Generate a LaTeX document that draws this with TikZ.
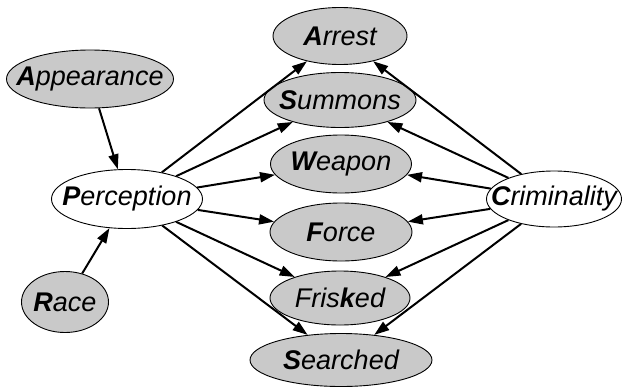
\documentclass[tikz,border=0pt]{standalone}
\usepackage{fontspec}
\setmainfont{Liberation Sans}
\usetikzlibrary{shapes.geometric,arrows.meta}
\begin{document}
\begin{tikzpicture}[x=1pt,y=-1pt,
  var/.style={ellipse,draw=black,line width=0.9pt,inner sep=0pt,
    font=\fontsize{27}{31}\selectfont\itshape},
  obs/.style={var,fill=gray!42},
  hid/.style={var,fill=white},
  edge/.style={line width=2pt,-{Triangle[length=15pt,width=10pt]}}]
\useasboundingbox (0,0) rectangle (623,386);
\node[obs,minimum width=134pt,minimum height=57pt] (arrest) at (340,36) {\makebox[0pt]{\textbf{A}rrest}};
\node[obs,minimum width=152pt,minimum height=55pt] (summons) at (340,100) {\makebox[0pt]{\textbf{S}ummons}};
\node[obs,minimum width=141pt,minimum height=58pt] (weapon) at (341,164) {\makebox[0pt]{\textbf{W}eapon}};
\node[obs,minimum width=142pt,minimum height=58pt] (force) at (341,232) {\makebox[0pt]{\textbf{F}orce}};
\node[obs,minimum width=140pt,minimum height=54pt] (frisked) at (340,298) {\makebox[0pt]{Fris\textbf{k}ed}};
\node[obs,minimum width=182pt,minimum height=53pt] (searched) at (341,360) {\makebox[0pt]{\textbf{S}earched}};
\node[obs,minimum width=167pt,minimum height=58pt] (appearance) at (90,79) {\makebox[0pt]{\textbf{A}ppearance}};
\node[hid,minimum width=151pt,minimum height=59pt] (perception) at (127,199) {\makebox[0pt]{\textbf{P}erception}};
\node[obs,minimum width=87pt,minimum height=61pt] (race) at (65,302) {\makebox[0pt]{\textbf{R}ace}};
\node[hid,minimum width=135pt,minimum height=56pt] (criminality) at (554,199) {\makebox[0pt]{\textbf{C}riminality}};
\draw[edge] (appearance) -- (perception);
\draw[edge] (race) -- (perception);
\foreach \t in {arrest,summons,weapon,force,frisked,searched}{
  \draw[edge] (perception) -- (\t);
  \draw[edge] (criminality) -- (\t);
}
\end{tikzpicture}
\end{document}
